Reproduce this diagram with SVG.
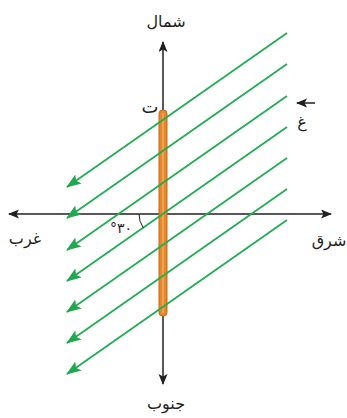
<svg xmlns="http://www.w3.org/2000/svg" width="347" height="418" viewBox="0 0 347 418">
<style>
.axis{stroke:#231f20;stroke-width:1.5;fill:none}
.field{stroke:#22ad55;stroke-width:1.8;fill:none;marker-end:url(#ga)}
.lbl{font-family:"DejaVu Sans",sans-serif;font-size:16px;fill:#231f20;text-anchor:middle}
</style>
<defs>
<marker id="ka" markerUnits="userSpaceOnUse" markerWidth="12" markerHeight="10" refX="10" refY="4.5" orient="auto">
<path d="M0,0 L11,4.5 L0,9 L2.5,4.5 z" fill="#231f20"/>
</marker>
<marker id="ga" markerUnits="userSpaceOnUse" markerWidth="16" markerHeight="12" refX="14" refY="5.5" orient="auto">
<path d="M0,0 L15,5.5 L0,11 L3,5.5 z" fill="#1fa84d"/>
</marker>
</defs>
<g id="axes">
<line class="axis" x1="163" y1="214" x2="163" y2="42" marker-end="url(#ka)"/>
<line class="axis" x1="163" y1="214" x2="163" y2="384" marker-end="url(#ka)"/>
<line class="axis" x1="163" y1="214" x2="331" y2="214" marker-end="url(#ka)"/>
<line class="axis" x1="163" y1="214" x2="9" y2="214" marker-end="url(#ka)"/>
</g>
<g id="rod">
<rect x="159" y="110" width="8" height="206" rx="3.5" fill="#e4882b" stroke="#c4681a" stroke-width="1"/>
<line x1="163" y1="113" x2="163" y2="313" stroke="#f0a24e" stroke-width="2"/>
</g>
<g id="connectors">
<line class="field" x1="287" y1="33" x2="67" y2="187"/>
<line class="field" x1="287" y1="64" x2="67" y2="218"/>
<line class="field" x1="287" y1="96" x2="67" y2="250"/>
<line class="field" x1="287" y1="127" x2="67" y2="281"/>
<line class="field" x1="287" y1="158" x2="67" y2="312"/>
<line class="field" x1="287" y1="189" x2="67" y2="343"/>
<line class="field" x1="287" y1="220" x2="67" y2="374"/>
</g>
<g id="angle">
<path d="M139,214 A24,24 0 0 0 143.3,227.8" fill="none" stroke="#231f20" stroke-width="1"/>
<text class="lbl" x="121" y="233" style="font-size:14px">°٣٠</text>
</g>
<g id="labels">
<text class="lbl" x="166" y="27">شمال</text>
<text class="lbl" x="166" y="409">جنوب</text>
<text class="lbl" x="329" y="246">شرق</text>
<text class="lbl" x="25" y="244">غرب</text>
<text class="lbl" x="150" y="113" style="font-size:18px">ت</text>
<g id="field-label">
<line x1="315" y1="103" x2="297" y2="103" stroke="#231f20" stroke-width="1.5" marker-end="url(#ka)"/>
<text class="lbl" x="302" y="127">غ</text>
</g>
</g>
</svg>
